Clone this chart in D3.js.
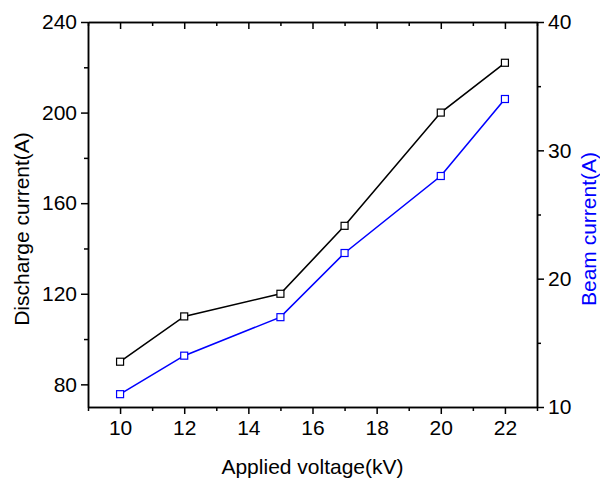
<!DOCTYPE html>
<html>
<head>
<meta charset="utf-8">
<script src="https://cdn.jsdelivr.net/npm/d3@7"></script>
<style>
  body { margin: 0; background: #fff; }
  svg { display: block; font-family: "Liberation Sans", Arial, sans-serif; }
  .axis path, .axis line { stroke: #000; stroke-width: 1.5; }
  .axis text { font-size: 21px; fill: #000; }
</style>
</head>
<body>
<div id="chart"></div>
<script>
// values
var voltage = [10, 12, 15, 17, 20, 22];
var discharge = [90, 110, 120, 150, 200, 222];
var beam = [11, 14, 17, 22, 28, 34];

var xTicks = [10, 12, 14, 16, 18, 20, 22];
var xMinor = [9, 11, 13, 15, 17, 19, 21, 23];
var leftTicks = [80, 120, 160, 200, 240];
var leftMinor = [100, 140, 180, 220];
var rightTicks = [10, 20, 30, 40];
var rightMinor = [15, 25, 35];

var margin = {left: 88, right: 63, top: 22, bottom: 79};
var W = 600, H = 486;
var width = W - margin.left - margin.right,
    height = H - margin.top - margin.bottom;

var svg = d3.select("#chart").append("svg")
    .attr("width", W)
    .attr("height", H);

var g = svg.append("g")
    .attr("transform", "translate(" + margin.left + "," + margin.top + ")");

var x = d3.scaleLinear().domain([9, 23]).range([0, width]);
var yL = d3.scaleLinear().domain([70, 240]).range([height, 0]);
var yR = d3.scaleLinear().domain([10, 40]).range([height, 0]);

// bottom axis
g.append("g")
    .attr("class", "axis")
    .attr("transform", "translate(0," + height + ")")
    .call(d3.axisBottom(x).tickValues(xTicks).tickSize(7).tickPadding(6).tickSizeOuter(0));
g.append("g")
    .attr("class", "axis")
    .attr("transform", "translate(0," + height + ")")
    .call(d3.axisBottom(x).tickValues(xMinor).tickSize(4).tickFormat("").tickSizeOuter(0));

// top axis, ticks inside
g.append("g")
    .attr("class", "axis")
    .call(d3.axisTop(x).tickValues(xTicks).tickSize(-7).tickFormat("").tickSizeOuter(0));
g.append("g")
    .attr("class", "axis")
    .call(d3.axisTop(x).tickValues(xMinor).tickSize(-4).tickFormat("").tickSizeOuter(0));

// left axis
g.append("g")
    .attr("class", "axis")
    .call(d3.axisLeft(yL).tickValues(leftTicks).tickSize(7).tickPadding(4).tickSizeOuter(0));
g.append("g")
    .attr("class", "axis")
    .call(d3.axisLeft(yL).tickValues(leftMinor).tickSize(4).tickFormat("").tickSizeOuter(0));

// right axis
g.append("g")
    .attr("class", "axis")
    .attr("transform", "translate(" + width + ",0)")
    .call(d3.axisRight(yR).tickValues(rightTicks).tickSize(7).tickPadding(4).tickSizeOuter(0));
g.append("g")
    .attr("class", "axis")
    .attr("transform", "translate(" + width + ",0)")
    .call(d3.axisRight(yR).tickValues(rightMinor).tickSize(4).tickFormat("").tickSizeOuter(0));

// lines
var lineL = d3.line()
    .x(function (d, i) { return x(voltage[i]); })
    .y(function (d) { return yL(d); });
var lineR = d3.line()
    .x(function (d, i) { return x(voltage[i]); })
    .y(function (d) { return yR(d); });

g.append("path")
    .datum(discharge)
    .attr("d", lineL)
    .attr("fill", "none")
    .attr("stroke", "#000")
    .attr("stroke-width", 1.6);

g.append("path")
    .datum(beam)
    .attr("d", lineR)
    .attr("fill", "none")
    .attr("stroke", "#0000ff")
    .attr("stroke-width", 1.6);

var s = 7;
g.selectAll(".mkL")
    .data(discharge)
    .enter()
    .append("rect")
    .attr("x", function (d, i) { return x(voltage[i]) - s / 2; })
    .attr("y", function (d) { return yL(d) - s / 2; })
    .attr("width", s)
    .attr("height", s)
    .attr("fill", "#fff")
    .attr("stroke", "#000")
    .attr("stroke-width", 1.2);

g.selectAll(".mkR")
    .data(beam)
    .enter()
    .append("rect")
    .attr("x", function (d, i) { return x(voltage[i]) - s / 2; })
    .attr("y", function (d) { return yR(d) - s / 2; })
    .attr("width", s)
    .attr("height", s)
    .attr("fill", "#fff")
    .attr("stroke", "#0000ff")
    .attr("stroke-width", 1.2);

// axis titles
svg.append("text")
    .attr("x", margin.left + width / 2)
    .attr("y", 474)
    .attr("text-anchor", "middle")
    .attr("font-size", "21px")
    .text("Applied voltage(kV)");

svg.append("text")
    .attr("transform", "translate(29,229) rotate(-90)")
    .attr("text-anchor", "middle")
    .attr("font-size", "21px")
    .text("Discharge current(A)");

svg.append("text")
    .attr("transform", "translate(596,229) rotate(-90)")
    .attr("text-anchor", "middle")
    .attr("font-size", "21px")
    .attr("fill", "#0000ff")
    .text("Beam current(A)");
</script>
</body>
</html>
